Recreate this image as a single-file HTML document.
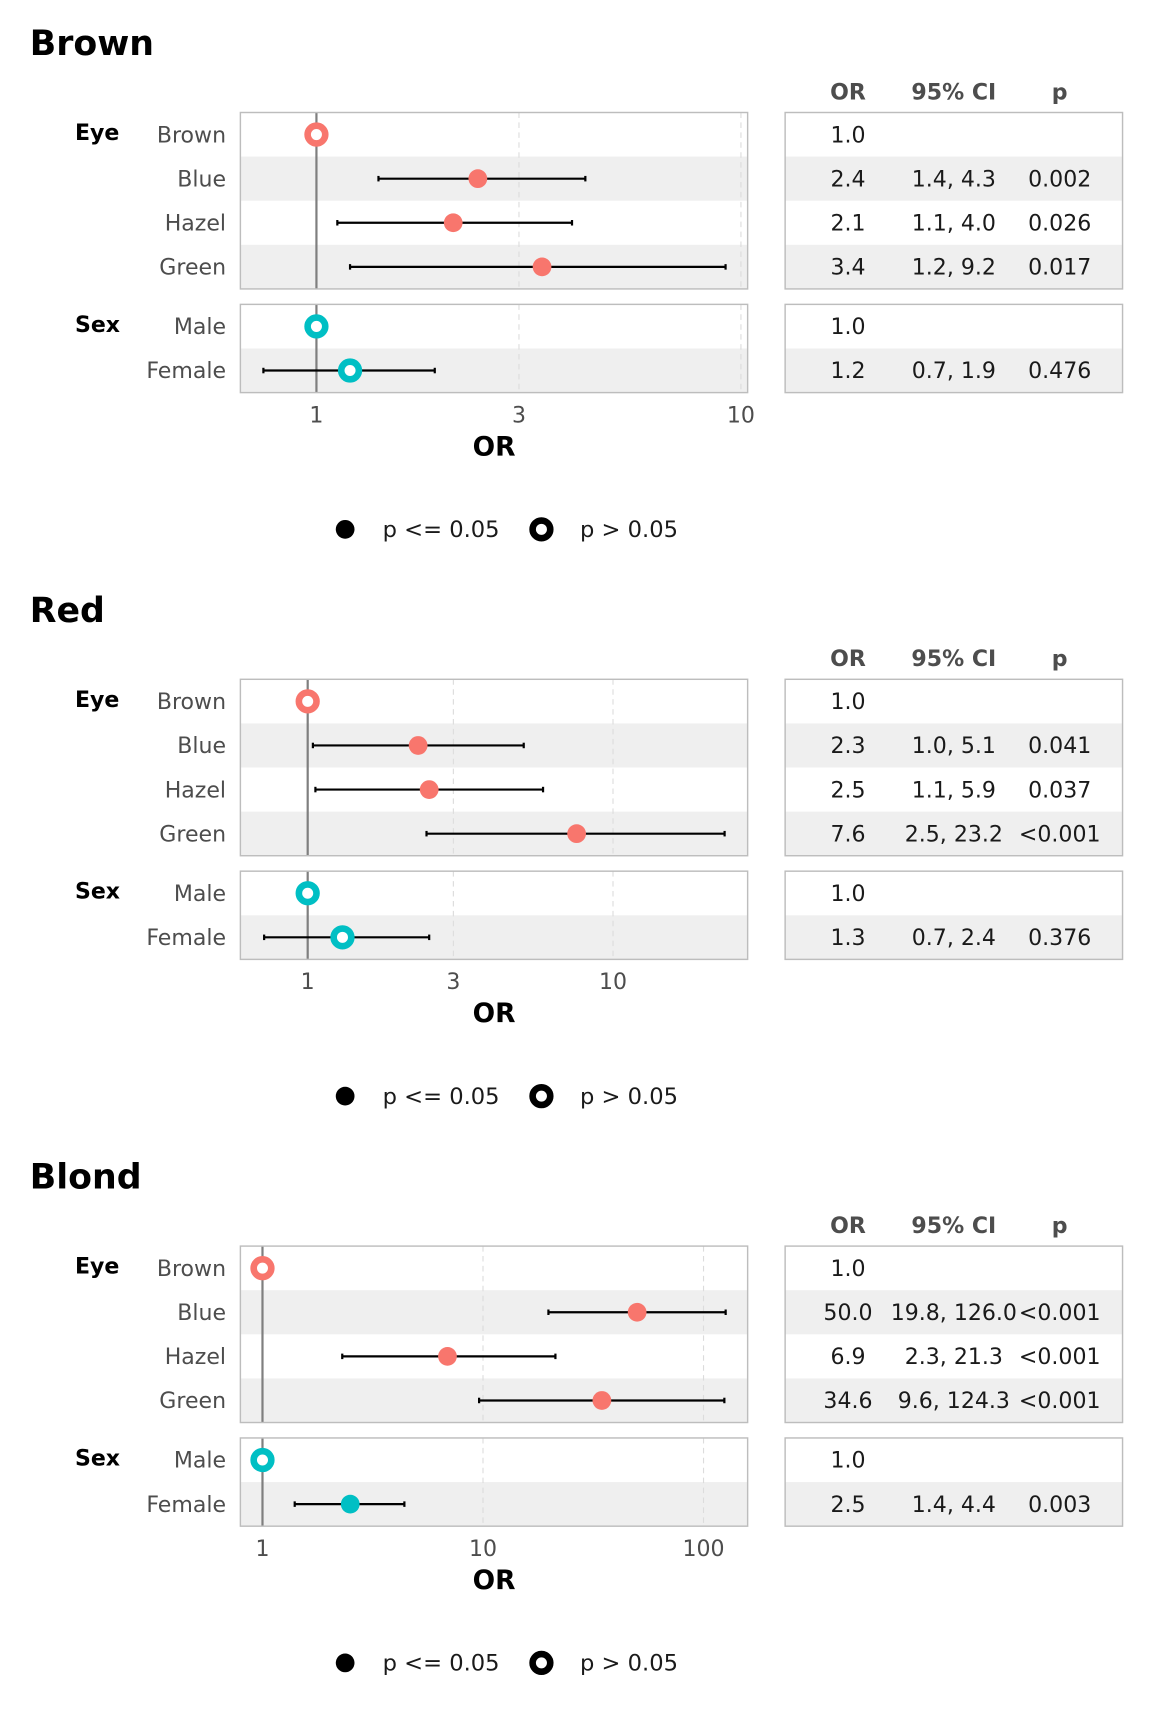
<!DOCTYPE html>
<html><head><meta charset="utf-8">
<style>
html,body{margin:0;padding:0;background:#fff;}
svg{display:block;font-family:"DejaVu Sans","Liberation Sans",sans-serif;}
</style></head>
<body>
<svg id="chart" width="1152" height="1728" viewBox="0 0 1044.7 1567" xmlns="http://www.w3.org/2000/svg"></svg>
<script>
// ---- data ----
const panelTitles = ["Brown", "Red", "Blond"];
const rowLabels = ["Brown", "Blue", "Hazel", "Green", "Male", "Female"];
const rowGroups = ["Eye", "Eye", "Eye", "Eye", "Sex", "Sex"];
const orBrown = [1.0, 2.4, 2.1, 3.4, 1.0, 1.2];
const loBrown = [null, 1.4, 1.12, 1.2, null, 0.75];
const hiBrown = [null, 4.3, 4.0, 9.2, null, 1.9];
const orRed = [1.0, 2.3, 2.5, 7.6, 1.0, 1.3];
const loRed = [null, 1.04, 1.06, 2.45, null, 0.72];
const hiRed = [null, 5.1, 5.9, 23.2, null, 2.5];
const orBlond = [1.0, 50.0, 6.9, 34.6, 1.0, 2.5];
const loBlond = [null, 19.8, 2.3, 9.6, null, 1.4];
const hiBlond = [null, 126.0, 21.3, 124.3, null, 4.4];
const sigBrown = [false, true, true, true, false, false];
const sigRed = [false, true, true, true, false, false];
const sigBlond = [false, true, true, true, false, true];
const orTextBrown = ["1.0", "2.4", "2.1", "3.4", "1.0", "1.2"];
const ciTextBrown = ["", "1.4, 4.3", "1.1, 4.0", "1.2, 9.2", "", "0.7, 1.9"];
const pTextBrown = ["", "0.002", "0.026", "0.017", "", "0.476"];
const orTextRed = ["1.0", "2.3", "2.5", "7.6", "1.0", "1.3"];
const ciTextRed = ["", "1.0, 5.1", "1.1, 5.9", "2.5, 23.2", "", "0.7, 2.4"];
const pTextRed = ["", "0.041", "0.037", "<0.001", "", "0.376"];
const orTextBlond = ["1.0", "50.0", "6.9", "34.6", "1.0", "2.5"];
const ciTextBlond = ["", "19.8, 126.0", "2.3, 21.3", "9.6, 124.3", "", "1.4, 4.4"];
const pTextBlond = ["", "<0.001", "<0.001", "<0.001", "", "0.003"];
const ticksBrown = [1, 3, 10];
const ticksRed = [1, 3, 10];
const ticksBlond = [1, 10, 100];
const domainBrown = [0.662, 10.37];
const domainRed = [0.602, 27.6];
const domainBlond = [0.794, 158.5];

const panels = [
  {or: orBrown, lo: loBrown, hi: hiBrown, sig: sigBrown, ort: orTextBrown, cit: ciTextBrown, pt: pTextBrown, ticks: ticksBrown, dom: domainBrown},
  {or: orRed, lo: loRed, hi: hiRed, sig: sigRed, ort: orTextRed, cit: ciTextRed, pt: pTextRed, ticks: ticksRed, dom: domainRed},
  {or: orBlond, lo: loBlond, hi: hiBlond, sig: sigBlond, ort: orTextBlond, cit: ciTextBlond, pt: pTextBlond, ticks: ticksBlond, dom: domainBlond}
];

const NS = "http://www.w3.org/2000/svg";
const svg = document.getElementById("chart");
function mk(tag, attrs, parent, text) {
  const e = document.createElementNS(NS, tag);
  for (const k in attrs) e.setAttribute(k, attrs[k]);
  if (text !== undefined) e.textContent = text;
  parent.appendChild(e);
  return e;
}
const PX0 = 218, PX1 = 678, TX0 = 712, TX1 = 1018;
const COLORS = {Eye: "#F8766D", Sex: "#00BFC4"};
function rowY(i) { return i < 4 ? 122 + i * 40 : 296 + (i - 4) * 40; }
const FS = 20;

panelTitles.forEach((title, pi) => {
  const P = panels[pi];
  const g = mk("g", {transform: "translate(0," + (pi * 514) + ")"}, svg);
  
  
  const xs = v => PX0 + (Math.log10(v) - Math.log10(P.dom[0])) / (Math.log10(P.dom[1]) - Math.log10(P.dom[0])) * (PX1 - PX0);

  const t = mk("text", {x: 27, y: 50, "font-size": 31.5, "font-weight": "bold", fill: "#000"}, g, title);
  
  

  [["OR", 769], ["95% CI", 865], ["p", 961]].forEach(h => {
    const e = mk("text", {x: h[1], y: 90, "font-size": FS, "font-weight": "bold", fill: "#4d4d4d", "text-anchor": "middle"}, g, h[0]);
    
    
  });

  const boxes = [[102, 262], [276, 356]];
  boxes.forEach(b => {
    [[PX0, PX1], [TX0, TX1]].forEach(xr => {
      mk("rect", {x: xr[0], y: b[0], width: xr[1] - xr[0], height: b[1] - b[0], fill: "#fff"}, g);
    });
  });
  [1, 3, 5].forEach(i => {
    [[PX0, PX1], [TX0, TX1]].forEach(xr => {
      const s = mk("rect", {x: xr[0], y: rowY(i) - 20, width: xr[1] - xr[0], height: 40, fill: "#efefef"}, g);
      
      
    });
  });
  P.ticks.forEach(tv => {
    if (tv === 1) return;
    boxes.forEach(b => {
      const l = mk("line", {x1: xs(tv), x2: xs(tv), y1: b[0], y2: b[1], stroke: "#dcdcdc", "stroke-width": 1, "stroke-dasharray": "5,4"}, g);
      
      
    });
  });
  boxes.forEach(b => {
    const l = mk("line", {x1: xs(1), x2: xs(1), y1: b[0], y2: b[1], stroke: "#7f7f7f", "stroke-width": 2}, g);
    
    
  });
  boxes.forEach(b => {
    [[PX0, PX1], [TX0, TX1]].forEach(xr => {
      const r = mk("rect", {x: xr[0], y: b[0], width: xr[1] - xr[0], height: b[1] - b[0], fill: "none", stroke: "#bdbdbd", "stroke-width": 1.3}, g);
      
      
    });
  });
  [["Eye", 0], ["Sex", 4]].forEach(gl => {
    const e = mk("text", {x: 68, y: rowY(gl[1]) + 5, "font-size": FS, "font-weight": "bold", fill: "#000"}, g, gl[0]);
    
    
  });
  rowLabels.forEach((lab, i) => {
    const y = rowY(i);
    const rl = mk("text", {x: 205, y: y + 7, "font-size": FS, fill: "#4d4d4d", "text-anchor": "end"}, g, lab);
    
    
    const col = COLORS[rowGroups[i]];
    if (P.lo[i] !== null) {
      const x1 = xs(P.lo[i]), x2 = xs(P.hi[i]);
      const ci = mk("g", {stroke: "#000", "stroke-width": 2}, g);
      
      
      mk("line", {x1: x1, x2: x2, y1: y, y2: y}, ci);
      mk("line", {x1: x1, x2: x1, y1: y - 2.5, y2: y + 2.5}, ci);
      mk("line", {x1: x2, x2: x2, y1: y - 2.5, y2: y + 2.5}, ci);
    }
    let pt;
    if (P.sig[i]) pt = mk("circle", {cx: xs(P.or[i]), cy: y, r: 8.5, fill: col}, g);
    else pt = mk("circle", {cx: xs(P.or[i]), cy: y, r: 8, fill: "#fff", stroke: col, "stroke-width": 6}, g);
    
    
    [[P.ort[i], 769], [P.cit[i], 865], [P.pt[i], 961]].forEach(c => {
      if (!c[0]) return;
      const e = mk("text", {x: c[1], y: y + 7, "font-size": FS, fill: "#1a1a1a", "text-anchor": "middle"}, g, c[0]);
      
      
    });
  });
  P.ticks.forEach(tv => {
    const e = mk("text", {x: xs(tv), y: 383, "font-size": FS, fill: "#4d4d4d", "text-anchor": "middle"}, g, String(tv));
    
    
  });
  const at = mk("text", {x: 448, y: 413, "font-size": 24, "font-weight": "bold", fill: "#000", "text-anchor": "middle"}, g, "OR");
  
  
  const lg = mk("g", {}, g);
  
  
  mk("circle", {cx: 313, cy: 480, r: 8.5, fill: "#000"}, lg);
  mk("text", {x: 347, y: 487, "font-size": 20.5, fill: "#1a1a1a"}, lg, "p <= 0.05");
  mk("circle", {cx: 491, cy: 480, r: 8, fill: "#fff", stroke: "#000", "stroke-width": 6}, lg);
  mk("text", {x: 526, y: 487, "font-size": 20.5, fill: "#1a1a1a"}, lg, "p > 0.05");
});
</script>
</body></html>
